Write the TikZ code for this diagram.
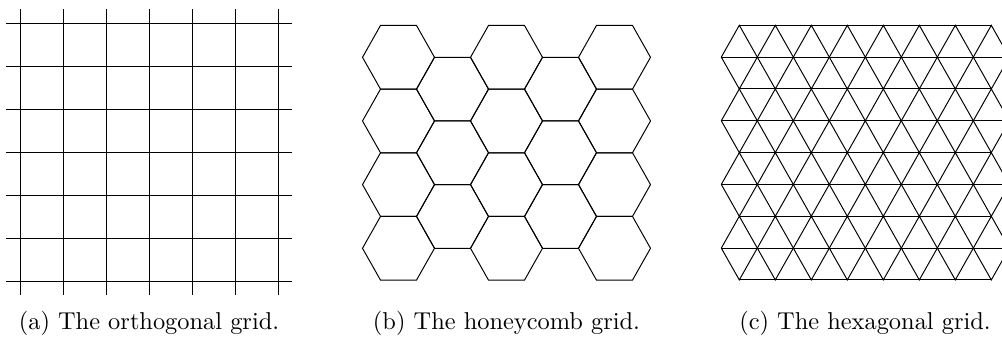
\documentclass[tikz,border=0pt]{standalone}
\usepackage{tikz}
\usetikzlibrary{positioning}
\tikzset{
  gridline/.style = {draw=black, line width=0.4pt},
  subcap/.style   = {anchor=base, font=\normalsize, inner sep=0pt},
}
\newcommand{\hexh}{31.83}

\begin{document}
\begin{tikzpicture}[x=0.41pt, y=0.41pt]
  \clip (0,0) rectangle (1002,-338);

  % (a) orthogonal grid
  \foreach \i in {0,...,6} {
    \draw[gridline] (20+43*\i,-9.3) -- (20+43*\i,-295.3);
    \draw[gridline] (6,-23.3-43*\i) -- (292,-23.3-43*\i);
  }

  % (b) honeycomb: column / number of cells / offset
  \foreach \c/\n/\o in {0/4/0, 1/3/1, 2/4/0, 3/3/1, 4/4/0} {
    \foreach \r in {1,...,\n} {
      \draw[gridline, shift={(398.5+54*\c,-57.3-\hexh*\o-2*\hexh*(\r-1))}]
        (-36,0) -- (-18,\hexh) -- (18,\hexh) -- (36,0) -- (18,-\hexh) -- (-18,-\hexh) -- cycle;
    }
  }

  % (c) hexagonal (triangular) grid
  \foreach \j in {0,2,4,6,8}
    \draw[gridline] (739.3,-25.3-\hexh*\j) -- (991.3,-25.3-\hexh*\j);
  \foreach \j in {1,3,5,7}
    \draw[gridline] (721.3,-25.3-\hexh*\j) -- (1009.3,-25.3-\hexh*\j);
  \foreach \j in {0,2,4,6} {
    \foreach \i in {0,...,7} {
      \draw[gridline] (721.3+36*\i,-25.3-\hexh*\j-\hexh) -- (739.3+36*\i,-25.3-\hexh*\j)
                      -- (757.3+36*\i,-25.3-\hexh*\j-\hexh);
      \draw[gridline] (721.3+36*\i,-25.3-\hexh*\j-\hexh) -- (739.3+36*\i,-25.3-\hexh*\j-2*\hexh)
                      -- (757.3+36*\i,-25.3-\hexh*\j-\hexh);
    }
  }

  \node[subcap] (capA) at (149,-330) {(a) The orthogonal grid.};
  \node[subcap] (capB) at (506.5,-330) {(b) The honeycomb grid.};
  \node[subcap] (capC) at (865,-330) {(c) The hexagonal grid.};
\end{tikzpicture}
\end{document}
